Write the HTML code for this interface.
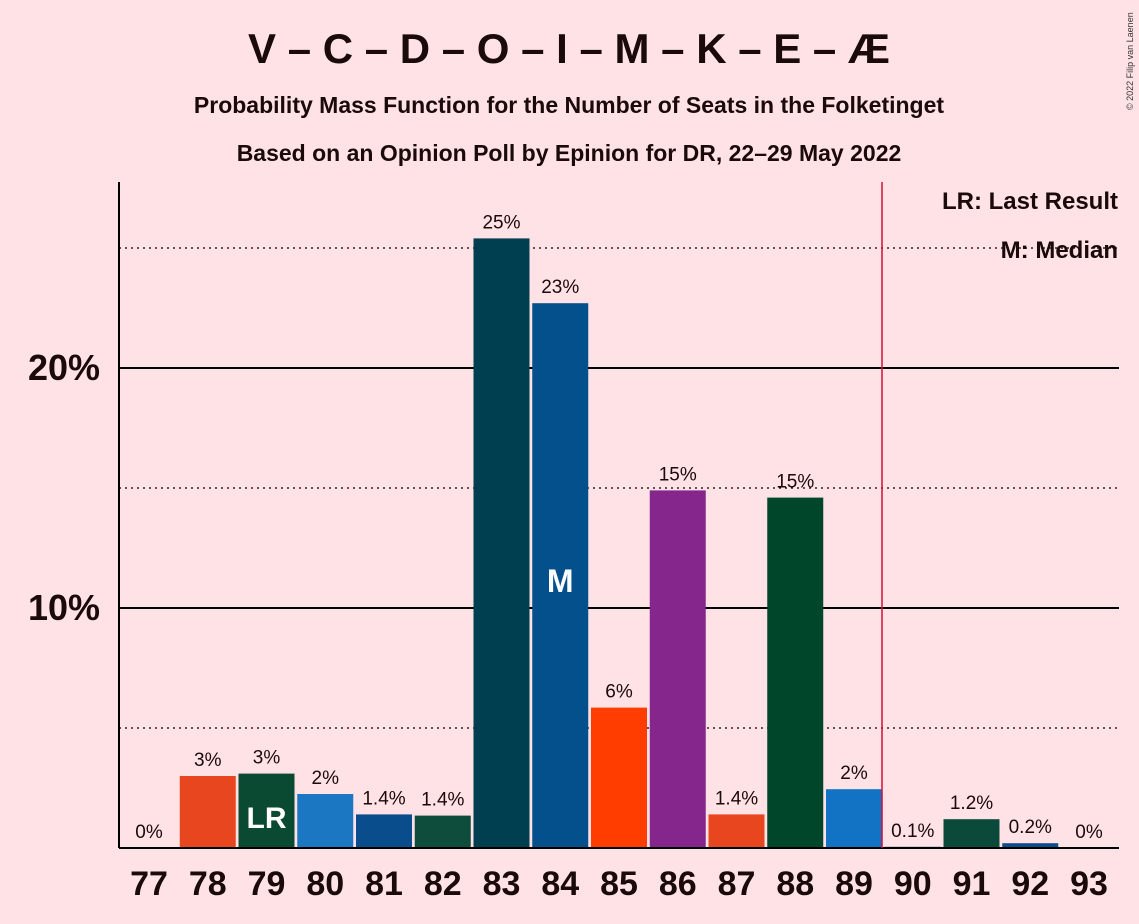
<!DOCTYPE html>
<html><head><meta charset="utf-8"><style>
body{margin:0;background:#FFE2E6;font-family:"Liberation Sans",sans-serif;}
svg{display:block}
</style></head><body>
<svg id="c" width="1139" height="924">
<rect width="1139" height="924" fill="#FFE2E6"/>
<text x="569" y="63" text-anchor="middle" font-size="42" font-weight="bold" fill="#1a0a0a">V – C – D – O – I – M – K – E – Æ</text>
<text x="569" y="113" text-anchor="middle" font-size="23" font-weight="bold" fill="#1a0a0a">Probability Mass Function for the Number of Seats in the Folketinget</text>
<text x="569" y="161" text-anchor="middle" font-size="23" font-weight="bold" fill="#1a0a0a">Based on an Opinion Poll by Epinion for DR, 22–29 May 2022</text>
<text x="1133" y="110" font-size="9" fill="#333" transform="rotate(-90 1133 110)">© 2022 Filip van Laenen</text>
<g id="grid"></g><g id="bars"></g>
<line x1="119" y1="182" x2="119" y2="848" stroke="#000" stroke-width="2"/>
<line x1="119" y1="848" x2="1119" y2="848" stroke="#000" stroke-width="2"/>
<line x1="882" y1="182" x2="882" y2="848" stroke="#d0103a" stroke-width="1.5"/>
<text x="1118" y="209" text-anchor="end" font-size="24" font-weight="bold" fill="#1a0a0a">LR: Last Result</text>
<text x="1118" y="258" text-anchor="end" font-size="24" font-weight="bold" fill="#1a0a0a">M: Median</text>
</svg>
<script>
const seats=[77,78,79,80,81,82,83,84,85,86,87,88,89,90,91,92,93];
const values=[0,3.0,3.1,2.25,1.4,1.35,25.4,22.7,5.85,14.9,1.4,14.6,2.45,0.05,1.2,0.2,0];
const labels=["0%","3%","3%","2%","1.4%","1.4%","25%","23%","6%","15%","1.4%","15%","2%","0.1%","1.2%","0.2%","0%"];
const colors=["#E8461E","#E8461E","#0B4A32","#1C77C3","#0A4D8C","#0E4D3C","#003F4F","#03508C","#FF3D00","#84268B","#E8461E","#00462A","#1273C5","#0A4D8C","#0B4A3A","#0A4D8C","#0A4D8C"];
const ticks=[5,10,15,20,25];
const lastResult=79, median=84;
const NS="http://www.w3.org/2000/svg";
const y=v=>848-v*24;
const x=s=>149+(s-77)*58.75;
function mk(t,a,p){const e=document.createElementNS(NS,t);for(const k in a)e.setAttribute(k,a[k]);p.appendChild(e);return e;}
const g=document.getElementById('grid'),b=document.getElementById('bars');
ticks.forEach(t=>{
  const major=t%10===0;
  const l=mk('line',{x1:119,x2:1119,y1:y(t),y2:y(t),stroke:'#000','stroke-width':major?2:1.3,'stroke-dasharray':major?'':'2,4'},g);
  
  
  if(major){const tx=mk('text',{x:100,y:y(t)+12,'text-anchor':'end','font-size':36,'font-weight':'bold',fill:'#1a0a0a'},g);tx.textContent=t+'%';
  
  }
});
seats.forEach((s,i)=>{
  const v=values[i];
  if(v>0){const r=mk('rect',{x:x(s)-28,y:y(v),width:56,height:848-y(v),fill:colors[i]},b);
  
  }
  const t=mk('text',{x:x(s),y:y(v)-10,'text-anchor':'middle','font-size':19,fill:'#1a0a0a'},b);t.textContent=labels[i];
  
  
  const xl=mk('text',{x:x(s),y:895,'text-anchor':'middle','font-size':34,'font-weight':'bold',fill:'#1a0a0a'},b);xl.textContent=s;
  
  
  if(s===lastResult){const m=mk('text',{x:x(s),y:828,'text-anchor':'middle','font-size':30,'font-weight':'bold',fill:'#fff'},b);m.textContent='LR';
  
  }
  if(s===median){const m=mk('text',{x:x(s),y:y(10)-16,'text-anchor':'middle','font-size':32,'font-weight':'bold',fill:'#fff'},b);m.textContent='M';
  
  }
});
</script>
</body></html>
